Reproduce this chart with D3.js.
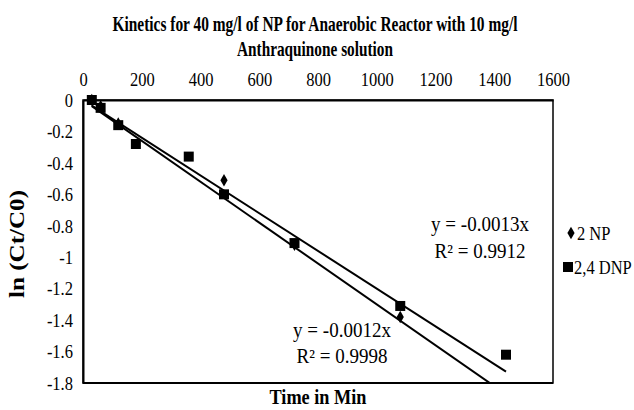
<!DOCTYPE html>
<html>
<head>
<meta charset="utf-8">
<script src="https://cdn.jsdelivr.net/npm/d3@7"></script>
<style>
  body { margin: 0; background: #fff; }
  svg text { font-family: "Liberation Serif", "Times New Roman", "DejaVu Serif", serif !important; fill: #000; }
</style>
</head>
<body>
<script>
// data
var npTime = [30, 60, 120, 480, 720, 1080];
var npVal  = [0, -0.04, -0.15, -0.51, -0.92, -1.38];

var dnpTime = [30, 60, 120, 180, 360, 480, 720, 1080, 1440];
var dnpVal  = [0, -0.05, -0.16, -0.28, -0.36, -0.6, -0.91, -1.31, -1.62];

var slopes = [-0.0013, -0.0012];
var eqText = [["y = -0.0013x", "R\u00B2 = 0.9912"], ["y = -0.0012x", "R\u00B2 = 0.9998"]];
var legendNames = ["2 NP", "2,4 DNP"];

var xTicks = [0, 200, 400, 600, 800, 1000, 1200, 1400, 1600];
var yTicks = [0, -0.2, -0.4, -0.6, -0.8, -1, -1.2, -1.4, -1.6, -1.8];

var width = 634, height = 410;
var pLeft = 83, pRight = 553, pTop = 100, pBottom = 383;
var serif = "'Liberation Serif', 'Times New Roman', serif";

var svg = d3.select("body").append("svg")
  .attr("width", width)
  .attr("height", height);

// the original text is tall and narrow: measure at one size, draw taller at the same width
function condense(sel, base, big) {
  sel.attr("font-size", base).style("font-family", serif);
  sel.each(function() {
    var w = this.getComputedTextLength();
    d3.select(this).attr("font-size", big)
      .attr("textLength", w).attr("lengthAdjust", "spacingAndGlyphs");
  });
}

var x = d3.scaleLinear().domain([0, 1600]).range([pLeft, pRight]);
var y = d3.scaleLinear().domain([0, -1.8]).range([pTop, pBottom]);

svg.append("clipPath").attr("id", "plot")
  .append("rect")
  .attr("x", pLeft).attr("y", pTop)
  .attr("width", pRight - pLeft).attr("height", pBottom - pTop);

// frame
svg.append("rect")
  .attr("x", pLeft).attr("y", pTop)
  .attr("width", pRight - pLeft).attr("height", pBottom - pTop)
  .attr("fill", "none").attr("stroke", "#000").attr("stroke-width", 1.5);

// axes
var xAxis = svg.append("g")
  .attr("transform", "translate(0," + pTop + ")")
  .call(d3.axisTop(x).tickValues(xTicks).tickSize(0).tickPadding(14).tickFormat(d3.format("d")));
xAxis.attr("font-family", serif);
xAxis.select(".domain").attr("stroke-width", 2);
condense(xAxis.selectAll("text"), 16.5, 19.5);

var yAxis = svg.append("g")
  .attr("transform", "translate(" + pLeft + ",0)")
  .call(d3.axisLeft(y).tickValues(yTicks).tickSize(0).tickPadding(10)
    .tickFormat(function(d) { return d === 0 ? "0" : String(d); }));
yAxis.attr("font-family", serif);
yAxis.select(".domain").attr("stroke-width", 2);
condense(yAxis.selectAll("text"), 16.5, 19.5);

svg.append("line")
  .attr("x1", pLeft).attr("x2", pRight)
  .attr("y1", pBottom).attr("y2", pBottom)
  .attr("stroke", "#000").attr("stroke-width", 2);

// trend lines
var plot = svg.append("g").attr("clip-path", "url(#plot)");
var xr = [d3.min(dnpTime), d3.max(dnpTime)];
slopes.forEach(function(s) {
  plot.append("line")
    .attr("x1", x(xr[0])).attr("y1", y(s * xr[0]))
    .attr("x2", x(xr[1])).attr("y2", y(s * xr[1]))
    .attr("stroke", "#000").attr("stroke-width", 2);
});

// markers
var diamond = d3.symbol().type(d3.symbolDiamond).size(45);
var square = d3.symbol().type(d3.symbolSquare).size(100);

svg.append("g").selectAll("path")
  .data(d3.zip(npTime, npVal))
  .enter().append("path")
  .attr("d", diamond)
  .attr("transform", function(d) { return "translate(" + x(d[0]) + "," + y(d[1]) + ")"; })
  .attr("fill", "#000");

svg.append("g").selectAll("path")
  .data(d3.zip(dnpTime, dnpVal))
  .enter().append("path")
  .attr("d", square)
  .attr("transform", function(d) { return "translate(" + x(d[0]) + "," + y(d[1]) + ")"; })
  .attr("fill", "#000");

// equations
var eqPos = [[480, 231, 258], [342, 337, 363]];
eqText.forEach(function(t, i) {
  condense(svg.append("text").attr("x", eqPos[i][0]).attr("y", eqPos[i][1])
    .attr("text-anchor", "middle").text(t[0]), 19, 20);
  condense(svg.append("text").attr("x", eqPos[i][0]).attr("y", eqPos[i][2])
    .attr("text-anchor", "middle").text(t[1]), 19, 20);
});

// legend
var lg = svg.append("g");
lg.append("path").attr("d", diamond).attr("transform", "translate(571,233)").attr("fill", "#000");
lg.append("path").attr("d", square).attr("transform", "translate(568,267)").attr("fill", "#000");
var legX = [577, 574];
legendNames.forEach(function(n, i) {
  condense(lg.append("text").attr("x", legX[i]).attr("y", 240 + i * 34).text(n), 16.5, 19.5);
});

// titles
svg.append("text").attr("x", 315).attr("y", 31).attr("text-anchor", "middle")
  .attr("font-size", 21).attr("font-weight", "bold").style("font-family", serif)
  .attr("textLength", 405).attr("lengthAdjust", "spacingAndGlyphs")
  .text("Kinetics for 40 mg/l of NP for Anaerobic Reactor with 10 mg/l");
svg.append("text").attr("x", 315).attr("y", 56).attr("text-anchor", "middle")
  .attr("font-size", 21).attr("font-weight", "bold").style("font-family", serif)
  .attr("textLength", 156).attr("lengthAdjust", "spacingAndGlyphs")
  .text("Anthraquinone solution");

svg.append("text").attr("x", 318).attr("y", 404).attr("text-anchor", "middle")
  .attr("font-size", 21).attr("font-weight", "bold").style("font-family", serif)
  .attr("textLength", 97).attr("lengthAdjust", "spacingAndGlyphs")
  .text("Time in Min");

svg.append("text")
  .attr("transform", "translate(24,244) rotate(-90)")
  .attr("text-anchor", "middle")
  .attr("font-size", 21).attr("font-weight", "bold").style("font-family", serif)
  .attr("textLength", 108).attr("lengthAdjust", "spacingAndGlyphs")
  .text("ln (Ct/C0)");
</script>
</body>
</html>
